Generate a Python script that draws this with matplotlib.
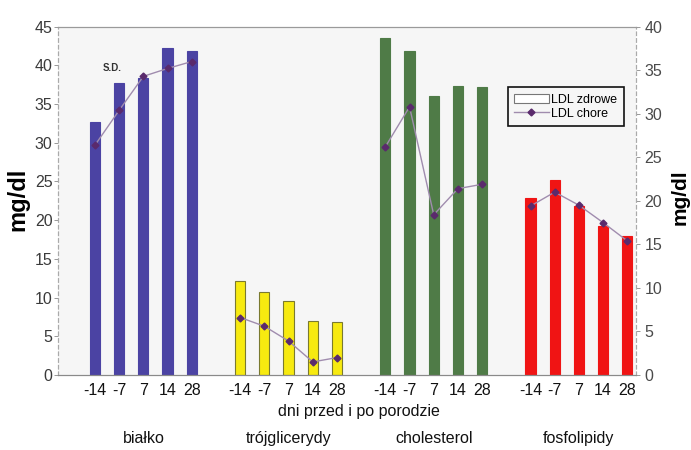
import matplotlib
matplotlib.use("Agg")
import matplotlib.pyplot as plt
from matplotlib.patches import Patch
from matplotlib.lines import Line2D
import numpy as np

plt.rcParams['font.family'] = ['Liberation Sans', 'DejaVu Sans']

# Data: LDL fraction composition, days before / after parturition
groups = ["białko", "trójglicerydy", "cholesterol", "fosfolipidy"]
days = ["-14", "-7", "7", "14", "28"]
group_colors = ["#4b43a3", "#f7ea10", "#4f7b47", "#f01414"]

# healthy cows (bars, left axis)
healthy = [
    [32.7, 37.7, 38.4, 42.2, 41.8],
    [12.1, 10.7, 9.6, 7.0, 6.9],
    [43.5, 41.8, 36.1, 37.4, 37.2],
    [22.9, 25.2, 21.8, 19.3, 18.0],
]
# sick cows (line, right axis)
sick = [
    [26.4, 30.4, 34.3, 35.2, 36.0],
    [6.6, 5.6, 3.9, 1.5, 2.0],
    [26.2, 30.8, 18.4, 21.4, 21.9],
    [19.4, 21.0, 19.5, 17.5, 15.4],
]
left_ticks = [0, 5, 10, 15, 20, 25, 30, 35, 40, 45]
right_ticks = [0, 5, 10, 15, 20, 25, 30, 35, 40]

fig = plt.figure(figsize=(6.91, 4.50), dpi=100)
fig.patch.set_facecolor("white")
ax = fig.add_axes([0.0839, 0.1667, 0.8365, 0.774])
ax.set_facecolor("#f6f6f6")
ax2 = ax.twinx()

line_col = "#a08cae"
mark_col = "#5a2a6c"

stride = 6
positions = []
for g, (vals, col) in enumerate(zip(healthy, group_colors)):
    x = np.arange(len(days)) + g * stride
    positions.extend(x)
    edge = "#7a7a30" if g == 1 else col
    ax.bar(x, vals, width=0.42, color=col, edgecolor=edge, linewidth=0.8, zorder=2)
    ax2.plot(x, sick[g], color=line_col, linewidth=1.0, zorder=3,
             marker="D", markersize=3.5, markerfacecolor=mark_col,
             markeredgecolor=mark_col)

ax.set_xlim(-1.53, 22.36)
ax.set_ylim(0, 45)
ax2.set_ylim(0, 40)
ax.set_yticks(left_ticks)
ax2.set_yticks(right_ticks)
ax.set_xticks(positions)
ax.set_xticklabels(days * len(groups))
ax.tick_params(axis="x", length=0, pad=6, labelsize=11.5, labelcolor="#111111")
ax.tick_params(axis="y", length=3, width=0.6, color="#888888", pad=1,
               labelsize=11.5, labelcolor="#3a3a3a")
ax2.tick_params(axis="y", length=3, width=0.6, color="#888888", pad=3,
                labelsize=11.5, labelcolor="#4a4a4a")

for a in (ax, ax2):
    a.spines["top"].set_color("#9a9a9a")
    a.spines["bottom"].set_color("#8a8a8a")
    a.spines["left"].set_color("#aaaaaa")
    a.spines["right"].set_color("#aaaaaa")
    a.spines["left"].set_linestyle((0, (3, 3)))
    a.spines["right"].set_linestyle((0, (3, 3)))
    for s in a.spines.values():
        s.set_linewidth(0.8)

# group names under the day labels
for g, name in enumerate(groups):
    ax.text(g * stride + 2, -0.182, name, transform=ax.get_xaxis_transform(),
            ha="center", va="center", fontsize=11.5, color="#111111")
ax.text(10.9, -0.105, "dni przed i po porodzie", transform=ax.get_xaxis_transform(),
        ha="center", va="center", fontsize=11.5, color="#111111")

ax.text(0.7, 39.7, "S.D.", fontsize=7, fontweight="bold", color="#333333",
        ha="center", va="center")

fig.text(18 / 691, 0.556, "mg/dl", rotation=90, ha="center", va="center",
         fontsize=17, fontweight="bold")
fig.text(680 / 691, 0.562, "mg/dl", rotation=90, ha="center", va="center",
         fontsize=15, fontweight="bold")

handles = [Patch(facecolor="white", edgecolor="#777777", linewidth=0.8),
           Line2D([], [], color=line_col, linewidth=1.0, marker="D", markersize=3.5,
                  markerfacecolor=mark_col, markeredgecolor=mark_col)]
leg = ax2.legend(handles, ["LDL zdrowe", "LDL chore"], loc="upper left",
                 bbox_to_anchor=(0.778, 0.826), fontsize=9, frameon=True,
                 fancybox=False, framealpha=1, edgecolor="#111111",
                 handlelength=2.8, handleheight=0.8, borderpad=0.5,
                 labelspacing=0.15, handletextpad=0.2, borderaxespad=0)
leg.get_frame().set_linewidth(1.2)
leg.get_frame().set_facecolor("#f6f6f6")

fig.savefig("out.png", dpi=100, facecolor="white")
